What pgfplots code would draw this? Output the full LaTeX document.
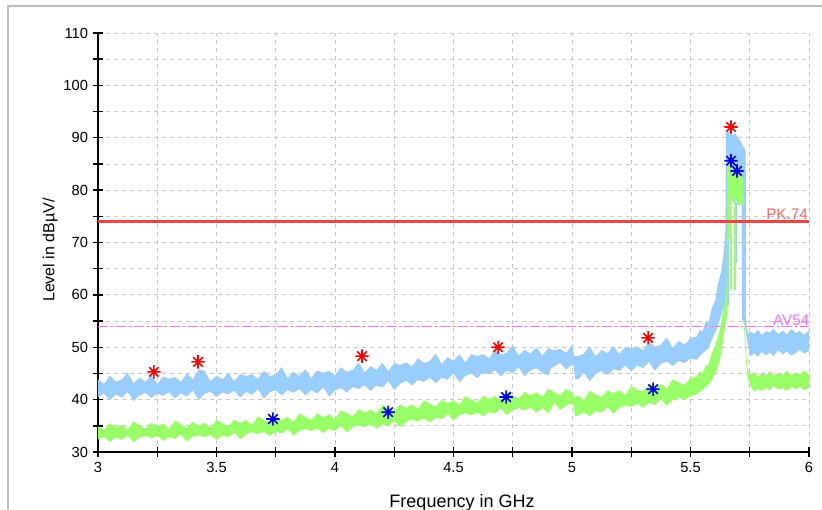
\documentclass[border=0pt]{standalone}
\usepackage{fontspec}
\setmainfont{Liberation Sans}
\usepackage{pgfplots}
\pgfplotsset{compat=1.18}

\definecolor{pkblue}{RGB}{153,204,255}
\definecolor{avgreen}{RGB}{153,255,102}
\definecolor{limred}{RGB}{238,68,68}
\definecolor{pklabel}{RGB}{242,104,104}
\definecolor{avmag}{RGB}{255,110,255}
\definecolor{mkred}{RGB}{255,0,0}
\definecolor{mkblue}{RGB}{0,0,230}
\definecolor{framegray}{RGB}{190,190,190}
\definecolor{gridgray}{RGB}{200,200,200}

% eight-armed asterisk used by the receiver software
\pgfdeclareplotmark{ast8}{%
  \pgfpathmoveto{\pgfqpoint{-\pgfplotmarksize}{0pt}}\pgfpathlineto{\pgfqpoint{\pgfplotmarksize}{0pt}}%
  \pgfpathmoveto{\pgfqpoint{0pt}{-\pgfplotmarksize}}\pgfpathlineto{\pgfqpoint{0pt}{\pgfplotmarksize}}%
  \pgfpathmoveto{\pgfqpoint{-.707\pgfplotmarksize}{-.707\pgfplotmarksize}}\pgfpathlineto{\pgfqpoint{.707\pgfplotmarksize}{.707\pgfplotmarksize}}%
  \pgfpathmoveto{\pgfqpoint{-.707\pgfplotmarksize}{.707\pgfplotmarksize}}\pgfpathlineto{\pgfqpoint{.707\pgfplotmarksize}{-.707\pgfplotmarksize}}%
  \pgfusepathqstroke}

\begin{document}
\begin{tikzpicture}
\useasboundingbox (-73.5pt,-43.5pt) rectangle (543pt,339pt);
\draw[framegray, line width=1.5pt] (-67.5pt,-60pt) -- (-67.5pt,334.5pt) -- (560pt,334.5pt);
\begin{axis}[
    at={(0pt,0pt)}, anchor=south west,
    scale only axis, width=533.25pt, height=314.25pt,
    xmin=3, xmax=6, ymin=30, ymax=110,
    xtick={3,3.5,...,6}, ytick={30,40,...,110},
    minor x tick num=1, minor y tick num=1,
    axis x line*=bottom, axis y line*=left,
    axis line style={black, line width=1.1pt, -},
    tick style={black, line width=1.1pt},
    tick align=center, major tick length=8pt, minor tick length=8pt,
    grid=both,
    major grid style={draw=gridgray, line width=0.6pt, dash pattern=on 3pt off 3pt},
    minor grid style={draw=gridgray, line width=0.6pt, dash pattern=on 3pt off 3pt},
    /pgf/number format/assume math mode=true,
    tick label style={font=\fontsize{11}{13}\selectfont},
    xlabel={Frequency in GHz},
    ylabel={Level in dBµV/},
    xlabel style={at={(rel axis cs:0.512,-0.133)}, anchor=base, font=\fontsize{13.5}{15}\selectfont},
    ylabel style={at={(rel axis cs:-0.0612,0.482)}, anchor=base, font=\fontsize{12}{14}\selectfont},
]
% PK trace (light blue band): upper edge left to right, lower edge right to left
\addplot[draw=none, fill=pkblue] coordinates {
(3.000,43.9)(3.025,43.0)(3.050,44.6)(3.075,43.5)(3.100,43.8)(3.125,45.2)(3.150,43.1)(3.175,44.2)(3.200,43.4)(3.225,44.7)
(3.250,43.0)(3.275,44.4)(3.300,44.0)(3.325,44.3)(3.350,43.4)(3.375,45.0)(3.400,43.9)(3.425,45.8)(3.450,45.5)(3.475,43.5)
(3.500,44.6)(3.525,43.9)(3.550,45.1)(3.575,43.5)(3.600,44.9)(3.625,44.5)(3.650,44.8)(3.675,44.0)(3.700,45.5)(3.725,44.5)
(3.750,44.8)(3.775,46.2)(3.800,44.1)(3.825,45.3)(3.850,44.5)(3.875,45.8)(3.900,44.1)(3.925,45.6)(3.950,45.1)(3.975,45.5)
(4.000,44.6)(4.025,46.2)(4.050,45.3)(4.075,45.7)(4.100,47.1)(4.125,45.2)(4.150,46.4)(4.175,45.7)(4.200,47.0)(4.225,45.5)
(4.250,47.0)(4.275,46.6)(4.300,47.1)(4.325,46.3)(4.350,47.9)(4.375,47.0)(4.400,47.4)(4.425,48.8)(4.450,46.8)(4.475,48.1)
(4.500,47.4)(4.525,48.7)(4.550,47.1)(4.575,48.7)(4.600,48.3)(4.625,48.7)(4.650,47.9)(4.675,49.5)(4.700,48.6)(4.725,49.0)
(4.750,50.4)(4.775,48.4)(4.800,49.5)(4.825,48.8)(4.850,50.0)(4.875,48.4)(4.900,49.8)(4.925,49.4)(4.950,49.7)(4.975,48.9)
(5.000,50.4)(5.010,48.3)(5.025,48.3)(5.050,48.8)(5.075,50.2)(5.100,48.3)(5.125,49.5)(5.150,48.9)(5.175,50.2)(5.200,48.7)
(5.225,50.1)(5.250,49.8)(5.275,50.2)(5.300,49.4)(5.325,51.1)(5.350,50.1)(5.375,50.5)(5.400,51.9)(5.425,49.9)(5.450,51.2)
(5.475,50.5)(5.500,51.8)(5.525,52.0)(5.540,53.4)(5.550,52.9)(5.565,55.0)(5.575,54.6)(5.590,57.5)(5.605,59.0)(5.612,61.0)
(5.620,62.8)(5.630,64.5)(5.640,68.0)(5.647,72.0)(5.650,91.0)(5.660,91.3)(5.670,91.0)(5.680,90.5)(5.690,90.8)(5.700,90.0)
(5.710,89.5)(5.720,88.5)(5.728,88.0)(5.733,87.2)(5.734,56.0)(5.738,53.5)(5.745,52.5)(5.750,53.0)(5.770,52.6)(5.785,53.4)
(5.800,52.3)(5.820,53.1)(5.835,52.8)(5.850,53.6)(5.870,52.5)(5.890,53.2)(5.905,52.4)(5.925,53.5)(5.945,52.7)(5.960,53.1)
(5.980,52.4)(6.000,53.2)
(6.000,49.3)(5.980,48.8)(5.960,49.5)(5.945,48.9)(5.925,48.4)(5.905,49.2)(5.890,48.6)(5.870,49.4)(5.850,48.3)(5.835,49.0)
(5.820,48.5)(5.800,49.1)(5.785,48.2)(5.770,48.8)(5.752,48.4)(5.745,50.0)(5.738,51.5)(5.730,54.0)(5.717,55.5)(5.716,77.5)
(5.710,78.0)(5.700,77.0)(5.690,78.5)(5.680,77.5)(5.670,79.0)(5.663,78.0)(5.662,58.0)(5.645,57.5)(5.637,57.2)(5.624,55.2)
(5.610,53.5)(5.590,51.4)(5.575,49.8)(5.550,48.8)(5.525,47.6)
(5.500,47.8)(5.475,47.0)(5.450,47.4)(5.425,46.4)(5.400,47.3)(5.375,46.8)(5.350,45.5)(5.325,47.2)(5.300,46.0)(5.275,46.5)
(5.250,45.4)(5.225,46.5)(5.200,45.5)(5.175,45.8)(5.150,44.7)(5.125,45.5)(5.100,44.9)(5.075,43.5)(5.050,45.1)(5.025,43.8)
(5.012,44.0)(5.008,46.4)(5.000,46.7)(4.975,45.7)(4.950,47.0)(4.925,46.3)(4.910,45.9)(4.900,44.6)(4.875,45.1)(4.850,46.0)
(4.825,45.6)(4.800,44.4)(4.775,46.2)(4.750,45.0)(4.725,45.5)(4.700,44.4)(4.675,45.6)(4.650,44.8)(4.625,45.2)(4.600,44.1)
(4.575,45.0)(4.550,44.5)(4.525,43.3)(4.500,45.0)(4.475,43.8)(4.450,44.2)(4.425,43.1)(4.400,44.2)(4.375,43.4)(4.350,43.8)
(4.325,42.7)(4.300,43.6)(4.275,43.0)(4.250,41.8)(4.225,43.5)(4.200,42.3)(4.175,42.7)(4.150,41.6)(4.125,42.8)(4.100,42.0)
(4.075,42.4)(4.050,41.3)(4.025,42.2)(4.000,41.7)(3.975,40.6)(3.950,42.3)(3.925,41.2)(3.900,41.8)(3.875,40.8)(3.850,42.0)
(3.825,41.3)(3.800,41.8)(3.775,40.8)(3.750,41.8)(3.725,41.4)(3.700,40.2)(3.675,42.0)(3.650,40.9)(3.625,41.5)(3.600,40.4)
(3.575,41.7)(3.550,41.0)(3.525,41.4)(3.500,40.5)(3.475,41.5)(3.450,41.1)(3.425,39.9)(3.400,41.7)(3.375,40.6)(3.350,41.2)
(3.325,40.2)(3.300,41.4)(3.275,40.7)(3.250,41.2)(3.225,40.3)(3.200,41.3)(3.175,40.8)(3.150,39.7)(3.125,41.5)(3.100,40.4)
(3.075,41.0)(3.050,39.9)(3.025,41.2)(3.000,40.5)
} -- cycle;
\addplot[pkblue, line width=1pt] coordinates {(5.692,66) (5.692,77.5)};
% AV trace (green band), left part with the peak
\addplot[draw=none, fill=avgreen] coordinates {
(3.000,34.9)(3.025,34.2)(3.050,35.5)(3.075,34.7)(3.100,35.2)(3.125,34.2)(3.150,35.9)(3.175,35.1)(3.200,34.4)(3.225,35.6)
(3.250,34.9)(3.275,35.4)(3.300,34.4)(3.325,36.0)(3.350,35.3)(3.375,34.6)(3.400,35.8)(3.425,35.0)(3.450,35.6)(3.475,34.6)
(3.500,36.2)(3.525,35.5)(3.550,34.9)(3.575,36.2)(3.600,35.5)(3.625,36.1)(3.650,35.1)(3.675,36.8)(3.700,36.1)(3.725,35.5)
(3.750,36.8)(3.775,36.1)(3.800,36.7)(3.825,35.7)(3.850,37.4)(3.875,36.7)(3.900,36.1)(3.925,37.4)(3.950,36.6)(3.975,37.2)
(4.000,36.3)(4.025,38.0)(4.050,37.4)(4.075,36.8)(4.100,38.2)(4.125,37.5)(4.150,38.1)(4.175,37.3)(4.200,39.0)(4.225,38.4)
(4.250,37.8)(4.275,39.1)(4.300,38.4)(4.325,39.1)(4.350,38.2)(4.375,39.9)(4.400,39.2)(4.425,38.6)(4.450,40.0)(4.475,39.3)
(4.500,39.9)(4.525,39.0)(4.550,40.7)(4.575,40.0)(4.600,39.4)(4.625,40.8)(4.650,40.1)(4.675,40.7)(4.700,39.8)(4.725,41.5)
(4.750,40.8)(4.775,40.2)(4.800,41.5)(4.825,40.8)(4.850,41.4)(4.875,40.5)(4.900,42.1)(4.925,41.4)(4.950,40.8)(4.975,42.1)
(5.000,41.4)(5.010,40.4)(5.025,40.8)(5.050,39.9)(5.075,41.7)(5.100,41.0)(5.125,40.5)(5.150,41.8)(5.175,41.2)(5.200,41.8)
(5.225,40.9)(5.250,42.6)(5.275,42.0)(5.300,41.5)(5.325,42.9)(5.350,42.3)(5.375,43.0)(5.400,42.1)(5.425,43.9)(5.450,43.3)
(5.475,42.8)(5.500,44.2)(5.525,44.3)(5.540,45.4)(5.550,45.0)(5.565,46.6)(5.575,46.5)(5.590,48.9)(5.605,50.3)(5.620,52.7)
(5.630,55.0)(5.640,57.5)(5.647,59.5)(5.652,62.0)(5.655,84.6)(5.665,85.0)(5.675,84.2)(5.685,83.5)(5.695,84.0)(5.705,83.0)
(5.715,82.6)(5.722,82.0)(5.723,77.0)
(5.715,77.5)(5.705,76.8)(5.695,78.5)(5.685,77.2)(5.675,78.8)(5.672,78.0)(5.671,70.0)(5.662,71.0)(5.656,69.5)(5.655,56.0)
(5.646,53.9)(5.637,51.0)(5.624,47.6)(5.610,45.5)(5.590,43.7)(5.575,42.8)(5.550,41.8)(5.525,41.0)
(5.500,40.6)(5.475,40.0)(5.450,40.3)(5.425,39.9)(5.400,38.8)(5.375,40.1)(5.350,39.0)(5.325,39.4)(5.300,38.4)(5.275,39.3)
(5.250,38.6)(5.225,38.9)(5.200,38.4)(5.175,37.3)(5.150,38.6)(5.125,37.5)(5.100,37.8)(5.075,36.8)(5.050,37.6)(5.025,36.9)
(5.012,36.9)(5.008,38.9)(5.000,39.2)(4.975,38.9)(4.950,38.0)(4.925,39.4)(4.910,38.2)(4.900,37.4)(4.875,38.4)(4.850,37.5)
(4.825,38.5)(4.800,37.9)(4.775,38.4)(4.750,38.0)(4.725,37.0)(4.700,38.3)(4.675,37.3)(4.650,37.7)(4.625,36.8)(4.600,37.6)
(4.575,37.0)(4.550,37.4)(4.525,37.0)(4.500,36.0)(4.475,37.3)(4.450,36.2)(4.425,36.6)(4.400,35.6)(4.375,36.5)(4.350,35.8)
(4.325,36.2)(4.300,35.7)(4.275,34.7)(4.250,35.9)(4.225,34.9)(4.200,35.3)(4.175,34.4)(4.150,35.3)(4.125,34.7)(4.100,35.1)
(4.075,34.7)(4.050,33.7)(4.025,35.0)(4.000,34.0)(3.975,34.4)(3.950,33.6)(3.925,34.5)(3.900,34.0)(3.875,34.4)(3.850,34.0)
(3.825,33.1)(3.800,34.4)(3.775,33.5)(3.750,33.9)(3.725,33.0)(3.700,33.9)(3.675,33.4)(3.650,33.8)(3.625,33.4)(3.600,32.4)
(3.575,33.7)(3.550,32.8)(3.525,33.2)(3.500,32.3)(3.475,33.3)(3.450,32.8)(3.425,33.2)(3.400,32.9)(3.375,32.0)(3.350,33.4)
(3.325,32.5)(3.300,32.9)(3.275,32.1)(3.250,33.1)(3.225,32.6)(3.200,33.1)(3.175,32.7)(3.150,31.8)(3.125,33.2)(3.100,32.3)
(3.075,32.8)(3.050,31.9)(3.025,32.9)(3.000,32.4)
} -- cycle;
% AV trace, falling edge and tail
\addplot[draw=none, fill=avgreen] coordinates {
(5.725,56.0)(5.730,53.0)(5.735,49.0)(5.740,46.0)(5.750,44.8)(5.770,45.2)(5.785,44.4)(5.800,45.0)(5.820,44.6)(5.835,45.5)
(5.850,44.5)(5.870,45.1)(5.890,44.7)(5.905,45.6)(5.925,44.6)(5.945,45.2)(5.960,44.8)(5.980,45.5)(6.000,44.9)
(6.000,42.3)(5.980,41.8)(5.960,42.5)(5.945,41.9)(5.925,42.4)(5.905,41.6)(5.890,42.2)(5.870,41.9)(5.850,42.6)(5.835,41.7)
(5.820,42.3)(5.800,41.6)(5.785,42.1)(5.770,41.5)(5.760,42.0)(5.745,43.5)(5.737,46.0)(5.730,50.0)(5.727,53.0)
} -- cycle;
\addplot[avgreen, line width=1pt] coordinates {(5.688,61) (5.688,77)};
\addplot[avgreen, line width=1pt] coordinates {(5.671,61) (5.671,71)};
% limit lines
\addplot[limred, line width=2.4pt] coordinates {(3,74) (6,74)};
\addplot[avmag, line width=1pt, dash pattern=on 7.5pt off 2.25pt on 1.5pt off 2.25pt] coordinates {(3,54) (6,54)};
\node[anchor=base east, inner sep=0pt, text=pklabel, font=\fontsize{11.5}{13}\selectfont, yshift=1.6pt] at (axis cs:5.997,74) {PK.74};
\node[anchor=base east, inner sep=0pt, text=avmag, font=\fontsize{11.5}{13}\selectfont, yshift=0.9pt] at (axis cs:6.003,54) {AV54};
% peak markers
\addplot[only marks, mark=ast8, mark size=5pt, mkred, mark options={line width=1.2pt}] coordinates {
(3.236,45.3) (3.422,47.2) (4.114,48.3) (4.688,50.0) (5.321,51.8) (5.671,92.05)};
% average markers
\addplot[only marks, mark=ast8, mark size=5pt, mkblue, mark options={line width=1.2pt}] coordinates {
(3.738,36.3) (4.224,37.6) (4.722,40.5) (5.342,42.0) (5.671,85.6) (5.696,83.65)};
\end{axis}
\end{tikzpicture}
\end{document}
